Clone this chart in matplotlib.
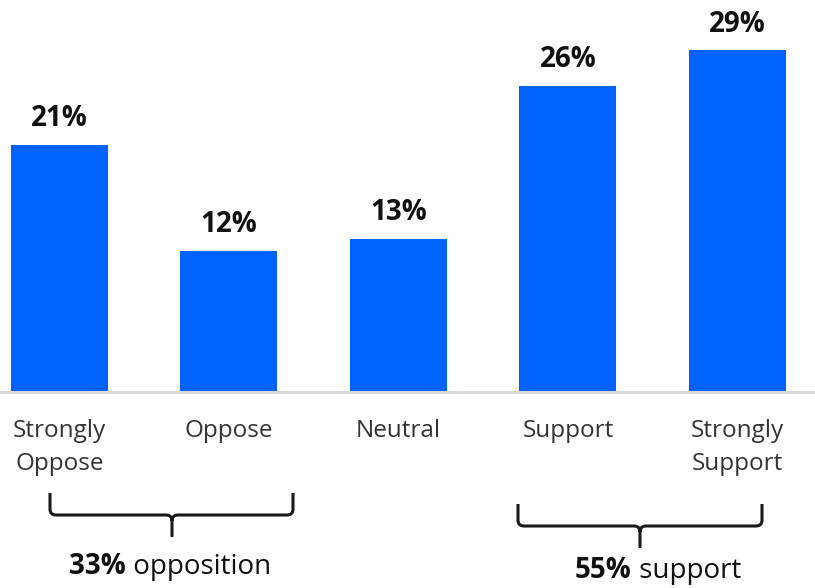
import matplotlib
matplotlib.use("Agg")
import matplotlib.pyplot as plt
from matplotlib.path import Path
from matplotlib.patches import PathPatch

categories = ["Strongly\nOppose", "Oppose", "Neutral", "Support", "Strongly\nSupport"]
values = [21, 12, 13, 26, 29]
group_pcts = ["33%", "55%"]
group_words = [" opposition", " support"]

BAR_COLOR = "#0062FF"
FONT = ["Open Sans", "DejaVu Sans"]
plt.rcParams["font.family"] = FONT

W, H = 815, 588
fig = plt.figure(figsize=(W / 100, H / 100), dpi=100)

# main bar axes: baseline 392 px from the top, bars 169.5 px apart
px_per_unit = 169.5
x0_px = 59.5
ax = fig.add_axes([0, (H - 392) / H, 1, 392 / H])
ax.set_xlim(-x0_px / px_per_unit, (W - x0_px) / px_per_unit)
ax.set_ylim(0, 392 / 11.78)
xs = list(range(len(values)))
ax.bar(xs, values, width=97 / px_per_unit, color=BAR_COLOR, zorder=2)
for x, v in zip(xs, values):
    ax.annotate(f"{v}%", (x, v), xytext=(0, 13.5), textcoords="offset points",
                ha="center", va="baseline", fontsize=20, fontweight="bold",
                color="#111111")
for s in ax.spines.values():
    s.set_visible(False)
ax.axhline(0, color="#d9d9d9", lw=2.2, zorder=3, clip_on=False)
ax.set_xticks([])
ax.set_yticks([])

# category labels under the baseline
for x, c in zip(xs, categories):
    ax.text(x, -27 / 11.78, c, ha="center", va="top", fontsize=17.5,
            color="#333333", linespacing=1.5)

# overlay in pixel coordinates for braces and group totals
ov = fig.add_axes([0, 0, 1, 1], facecolor="none")
ov.set_xlim(0, W)
ov.set_ylim(H, 0)
ov.axis("off")


def brace(x1, x2, ytop, yline, ytip, xm):
    r = 6
    verts = [(x1, ytop), (x1, yline - r), (x1, yline), (x1 + r, yline),
             (xm - r, yline), (xm, yline), (xm, yline + r), (xm, ytip),
             (xm, yline + r), (xm, yline), (xm + r, yline),
             (x2 - r, yline), (x2, yline), (x2, yline - r), (x2, ytop)]
    codes = [Path.MOVETO, Path.LINETO, Path.CURVE3, Path.CURVE3,
             Path.LINETO, Path.CURVE3, Path.CURVE3, Path.LINETO,
             Path.MOVETO, Path.CURVE3, Path.CURVE3,
             Path.LINETO, Path.CURVE3, Path.CURVE3, Path.LINETO]
    ov.add_patch(PathPatch(Path(verts, codes), fill=False, lw=2.2,
                           ec="#1a1a1a", capstyle="butt", joinstyle="round"))


brace(50, 293, 493, 515, 537, 172)
brace(518, 762, 504, 526, 548, 640)

renderer = fig.canvas.get_renderer()
for (xl, yc), pct, word in zip([(69, 567), (575, 571)], group_pcts, group_words):
    t = ov.text(xl, yc, pct, ha="left", va="center", fontsize=20,
                fontweight="bold", color="#111111")
    bb = t.get_window_extent(renderer)
    ov.text(bb.x1, yc, word, ha="left", va="center", fontsize=20,
            color="#111111")

fig.savefig("out.png", dpi=100)
